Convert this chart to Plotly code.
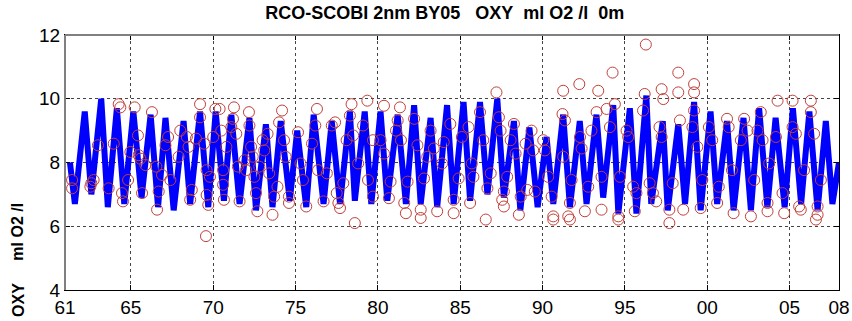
import plotly.graph_objects as go

# Model line: seasonal turning points (decimal year, ml O2/l)
line_t = [1961.3, 1961.6, 1962.2, 1962.6, 1963.2, 1963.6, 1964.15, 1964.6, 1965.15, 1965.65,
          1966.2, 1966.65, 1967.1, 1967.6, 1968.2, 1968.6, 1969.2, 1969.7, 1970.15, 1970.65,
          1971.1, 1971.6, 1972.2, 1972.6, 1973.2, 1973.6, 1974.1, 1974.65, 1975.1, 1975.65,
          1976.1, 1976.7, 1977.2, 1977.7, 1978.3, 1978.6, 1979.2, 1979.6, 1980.16, 1980.57,
          1981.2, 1981.7, 1982.2, 1982.6, 1983.2, 1983.6, 1984.2, 1984.6, 1985.2, 1985.6,
          1986.2, 1986.65, 1987.25, 1987.65, 1988.26, 1988.65, 1989.2, 1989.7, 1990.24, 1990.65,
          1991.25, 1991.66, 1992.26, 1992.67, 1993.27, 1993.68, 1994.29, 1994.6, 1995.3, 1995.7,
          1996.3, 1996.6, 1997.3, 1997.6, 1998.24, 1998.65, 1999.2, 1999.6, 2000.2, 2000.6,
          2001.2, 2001.6, 2002.2, 2002.65, 2003.15, 2003.65, 2004.15, 2004.7, 2005.2, 2005.7,
          2006.2, 2006.7, 2007.2, 2007.6, 2008.0]
line_v = [8.0, 6.7, 9.6, 7.0, 10.0, 6.6, 9.7, 6.7, 9.6, 6.9,
          9.5, 6.6, 9.4, 6.5, 9.3, 6.7, 9.6, 6.6, 9.6, 6.8,
          9.5, 6.7, 9.4, 6.5, 9.2, 6.6, 9.3, 6.8, 9.0, 6.6,
          9.5, 6.7, 9.3, 6.7, 9.6, 6.8, 9.6, 6.7, 9.6, 6.8,
          9.5, 6.7, 9.8, 6.7, 9.4, 6.6, 9.8, 6.7, 9.9, 6.8,
          9.9, 7.0, 10.0, 6.9, 9.3, 6.5, 9.1, 6.6, 8.8, 6.7,
          9.5, 6.6, 9.3, 6.7, 9.5, 6.9, 9.8, 6.4, 9.7, 6.4,
          10.1, 6.7, 9.3, 6.5, 9.2, 6.7, 9.9, 6.5, 9.6, 6.7,
          9.3, 6.5, 9.4, 6.5, 9.7, 6.6, 9.4, 6.6, 9.7, 6.7,
          9.6, 6.5, 9.3, 6.7, 8.0]

# Observations (decimal year, ml O2/l)
obs_t = [1961.43, 1961.43, 1962.6, 1962.74, 1962.54, 1963.0, 1963.65, 1963.96, 1964.26, 1964.36,
         1964.46, 1964.52, 1964.83, 1964.97, 1965.23, 1965.43, 1965.47, 1965.58, 1965.68, 1965.88,
         1966.28, 1966.55, 1966.69, 1966.59, 1966.89, 1967.26, 1967.1, 1967.4, 1968.0, 1967.9,
         1968.4, 1968.5, 1968.7, 1968.6, 1968.95, 1969.2, 1969.2, 1969.45, 1969.6, 1969.6,
         1969.7, 1969.56, 1970.0, 1970.13, 1969.8,
         1970.39, 1970.49, 1970.6, 1970.6, 1970.65, 1970.8, 1971.26, 1971.2, 1971.1, 1971.4,
         1971.5, 1971.6, 1971.9, 1972.0, 1972.17, 1972.2, 1972.3, 1972.4, 1972.5, 1972.6,
         1972.68, 1972.8, 1973.0, 1973.1, 1973.3, 1973.4, 1973.6, 1973.7, 1973.9, 1974.18,
         1974.0, 1974.3, 1974.4, 1974.6, 1974.6, 1975.15, 1975.3, 1975.45, 1975.65, 1976.0,
         1976.2, 1976.3, 1976.36, 1976.7, 1976.9, 1977.2, 1977.4, 1977.5, 1977.6, 1977.7,
         1977.9, 1978.1, 1978.4, 1978.3, 1978.5, 1978.6, 1978.8, 1979.1, 1979.36, 1979.4,
         1979.7, 1979.7,
         1980.37, 1980.16, 1980.37, 1980.77, 1980.67, 1981.34, 1981.2, 1981.1, 1981.4, 1981.8,
         1981.7, 1981.6, 1982.2, 1982.4, 1982.6, 1982.6, 1982.8, 1983.0, 1983.2, 1983.4,
         1983.6, 1983.9, 1984.0, 1984.4, 1984.6, 1984.6, 1984.9, 1985.1, 1985.5, 1985.6,
         1985.7, 1985.8, 1986.2, 1986.4, 1986.65, 1986.55, 1986.85, 1987.2, 1987.35, 1987.45,
         1987.65, 1987.55, 1987.65, 1987.85, 1988.26, 1988.06, 1988.36, 1988.56, 1988.67, 1988.97,
         1989.07,
         1989.33, 1989.43, 1989.53, 1990.04, 1990.14, 1990.34, 1990.55, 1990.65, 1990.65, 1991.25,
         1991.21, 1991.36, 1991.25, 1991.66, 1991.66, 1991.56, 1991.76, 1992.23, 1992.27, 1992.37,
         1992.57, 1992.77, 1992.97, 1993.28, 1993.38, 1993.58, 1993.58, 1993.89, 1994.09, 1994.25,
         1994.39, 1994.6, 1994.6, 1994.7, 1995.1, 1995.2, 1995.5, 1995.6, 1995.7, 1996.2,
         1996.27, 1996.1, 1996.5, 1996.7, 1996.9, 1997.23, 1997.33, 1997.1, 1997.23, 1997.7,
         1997.7, 1997.9, 1998.24, 1998.24, 1998.34, 1998.54,
         1999.2, 1999.2, 1999.2, 1999.1, 1999.4, 1999.6, 1999.7, 2000.1, 2000.3, 2000.6,
         2000.7, 2001.2, 2001.3, 2001.5, 2001.6, 2002.04, 2002.24, 2002.45, 2002.65, 2002.85,
         2003.25, 2003.05, 2003.36, 2003.66, 2003.66, 2003.76, 2004.17, 2004.27, 2004.57, 2004.67,
         2005.18, 2005.18, 2005.38, 2005.58, 2005.68, 2005.88, 2006.29, 2006.29, 2006.49, 2006.7,
         2006.6, 2006.7, 2006.9]
obs_v = [7.45, 7.19, 7.35, 7.45, 7.24, 8.54, 7.19, 8.59, 9.83, 9.73,
         7.04, 6.78, 7.45, 8.33, 9.73, 8.85, 8.23, 8.12, 7.04, 7.92,
         9.58, 7.87, 7.09, 6.52, 7.61, 8.80, 8.54, 7.45, 9.0, 8.18,
         8.8, 8.49, 7.14, 6.83, 8.75, 9.83, 9.42, 8.59, 7.76, 6.98,
         6.67, 5.69, 8.80, 9.68, 7.55,
         9.68, 9.0, 7.76, 7.3, 6.83, 8.49, 9.73, 9.37, 9.11, 8.9,
         7.87, 6.78, 8.07, 7.76, 9.58, 9.16, 8.49, 8.18, 7.55, 7.04,
         6.47, 7.87, 8.7, 8.38, 8.9, 7.66, 6.36, 6.93, 7.24, 9.63,
         9.26, 8.7, 8.18, 6.93, 6.73, 8.95, 7.97, 7.45, 6.62, 8.59,
         9.16, 9.68, 7.76, 6.78, 7.66, 9.16, 9.26, 7.04, 6.73, 6.57,
         7.35, 8.7, 9.83, 9.47, 8.85, 6.1, 7.97, 9.16, 9.94, 7.45,
         8.7, 6.93,
         9.78, 8.7, 8.28, 7.4, 6.88, 9.73, 9.32, 9.0, 8.7, 7.4,
         6.41, 6.73, 9.37, 8.54, 6.52, 6.26, 7.5, 8.18, 9.0, 8.44,
         6.47, 7.97, 8.64, 9.21, 6.41, 6.83, 7.5, 8.8, 9.11, 6.73,
         7.97, 7.55, 9.58, 8.7, 7.19, 6.21, 7.66, 10.2, 9.42, 9.0,
         7.09, 6.83, 6.62, 7.55, 9.21, 8.7, 8.28, 6.36, 6.93, 8.59,
         7.14,
         9.0, 8.38, 7.09, 8.7, 8.38, 7.55, 6.93, 6.31, 6.21, 10.25,
         9.52, 9.32, 8.18, 6.73, 6.21, 6.31, 7.45, 10.46, 8.8, 8.44,
         6.47, 7.24, 9.0, 9.58, 10.25, 7.55, 6.52, 9.68, 9.11, 10.82,
         9.83, 6.31, 6.21, 7.55, 9.0, 8.8, 7.24, 6.47, 7.04, 10.15,
         11.7, 9.63, 7.35, 7.04, 6.78, 10.3, 9.99, 9.11, 8.8, 6.52,
         6.1, 7.35, 10.82, 10.2, 9.32, 6.52,
         10.46, 10.2, 9.63, 9.11, 8.49, 6.57, 7.45, 9.11, 8.7, 6.73,
         7.24, 9.37, 9.11, 7.76, 6.41, 8.7, 9.37, 9.0, 6.31, 7.45,
         9.58, 9.0, 8.7, 6.73, 6.47, 7.97, 8.8, 9.94, 7.04, 6.41,
         9.94, 9.11, 8.9, 6.62, 6.52, 7.76, 9.94, 9.58, 8.9, 6.62,
         6.21, 6.36, 7.45]

x_tickvals = [1961, 1965, 1970, 1975, 1980, 1985, 1990, 1995, 2000, 2005, 2008]
x_ticktext = ["61", "65", "70", "75", "80", "85", "90", "95", "00", "05", "08"]
y_tickvals = [4, 6, 8, 10, 12]

fig = go.Figure()
fig.add_trace(go.Scatter(x=line_t, y=line_v, mode="lines",
                         line=dict(color="#0000ff", width=6), hoverinfo="skip"))
fig.add_trace(go.Scatter(x=obs_t, y=obs_v, mode="markers",
                         marker=dict(symbol="circle-open", size=11, color="#c0403a",
                                     line=dict(width=1, color="#c0403a"))))

FONT = "Liberation Sans Narrow, Arial Narrow, Liberation Sans, Arial, sans-serif"
tickfont = dict(family=FONT, size=19, color="black")
fig.update_layout(
    width=852, height=321,
    margin=dict(l=65, r=13, t=35, b=31, autoexpand=False),
    paper_bgcolor="white", plot_bgcolor="white",
    showlegend=False,
    title=dict(text="<b>RCO-SCOBI 2nm BY05&nbsp;&nbsp;&nbsp;OXY&nbsp;&nbsp;ml O2 /l&nbsp;&nbsp;0m</b>",
               x=0.522, xanchor="center", y=0.9595, yanchor="middle", automargin=False,
               font=dict(family="Liberation Sans, Arial, sans-serif", size=18, color="black")),
    xaxis=dict(range=[1961, 2008], tickvals=x_tickvals, ticktext=x_ticktext,
               showgrid=True, gridcolor="#444444", griddash="dot", gridwidth=1,
               showline=True, linecolor="black", linewidth=1, mirror="ticks",
               ticks="inside", ticklen=5, tickcolor="black", automargin=False,
               tickfont=tickfont, zeroline=False),
    yaxis=dict(range=[4, 12], tickvals=y_tickvals,
               showgrid=True, gridcolor="#444444", griddash="dot", gridwidth=1,
               showline=True, linecolor="black", linewidth=1, mirror="ticks",
               ticks="inside", ticklen=5, tickcolor="black", automargin=False,
               tickfont=tickfont, zeroline=False),
    annotations=[
        dict(text="<b>OXY</b>", textangle=-90, xref="paper", yref="paper",
             x=-0.061, y=-0.04, xanchor="center", yanchor="middle", showarrow=False,
             font=dict(family="Liberation Sans, Arial, sans-serif", size=16, color="black")),
        dict(text="<b>ml O2 /l</b>", textangle=-90, xref="paper", yref="paper",
             x=-0.061, y=0.228, xanchor="center", yanchor="middle", showarrow=False,
             font=dict(family="Liberation Sans, Arial, sans-serif", size=16, color="black")),
    ],
    shapes=[
        dict(type="line", xref="paper", yref="paper", x0=0, x1=1, y0=1, y1=1,
             line=dict(color="#808080", width=2)),
        dict(type="line", xref="paper", yref="paper", x0=0, x1=0, y0=0, y1=1,
             line=dict(color="#808080", width=2)),
    ],
)

fig.write_html("out.html", config={"displayModeBar": False},
               post_script="document.body.style.margin='0';document.body.style.overflow='hidden';")
